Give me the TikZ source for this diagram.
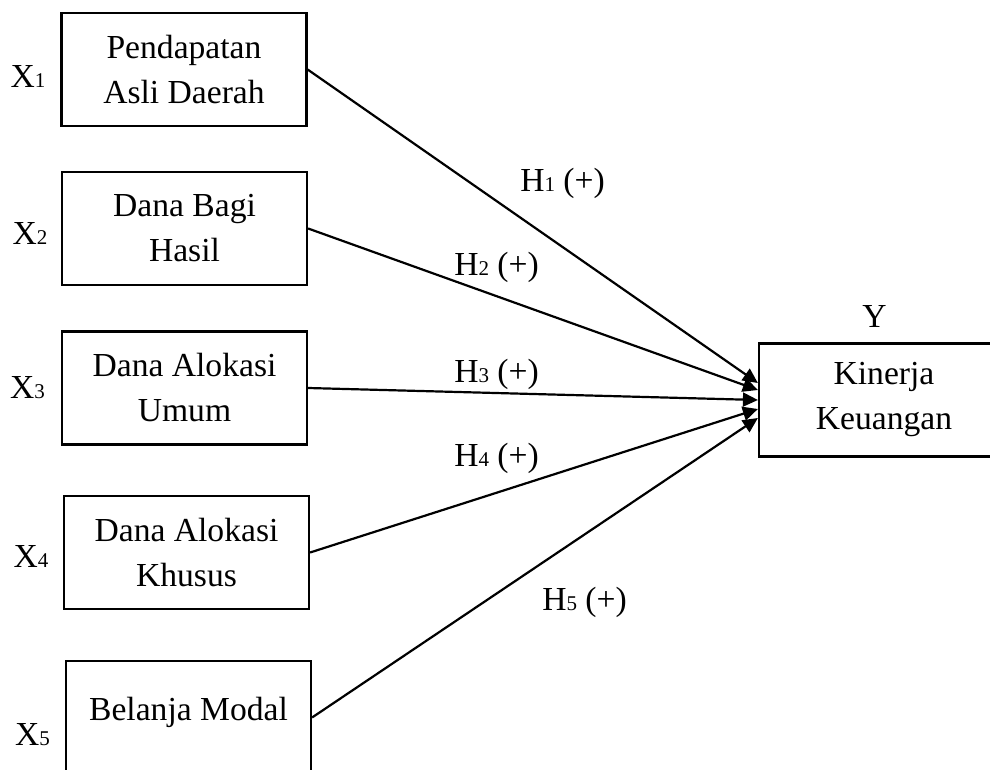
\documentclass[tikz,border=0pt]{standalone}
\usepackage{fontspec}
\setmainfont{Liberation Serif}
\usetikzlibrary{arrows.meta}
\newcommand{\sbs}[1]{{\fontsize{10.5}{12}\selectfont #1}}

\begin{document}
\begin{tikzpicture}[x=0.5pt,y=-0.5pt,
	font=\fontsize{16.8}{22.5}\selectfont,
	box/.style={draw,line width=1.1pt,minimum width=122.5pt,minimum height=56.5pt,inner sep=0pt,align=center},
	lbl/.style={anchor=base},
	link/.style={line width=1.1pt,-{Triangle[length=7.5pt,width=7pt]}}]
	\useasboundingbox (0,0) rectangle (990,770);
	% variabel independen
	\node[box] (pad) at (184,69.5) {Pendapatan\\Asli Daerah};
	\node[box] (dbh) at (184.5,228.5) {Dana Bagi\\Hasil};
	\node[box] (dau) at (184.5,388) {Dana Alokasi\\Umum};
	\node[box] (dak) at (186.5,552.5) {Dana Alokasi\\Khusus};
	\node[box,text depth=9pt] (bm) at (188.5,717.5) {Belanja Modal};
	% variabel dependen
	\node[box,minimum width=125pt] (kk) at (884,400) {Kinerja\\Keuangan};
	\node[lbl] (y) at (874.5,327) {Y};
	\node[lbl] (x1) at (28,88) {X\sbs{1}};
	\node[lbl] (x2) at (30,245) {X\sbs{2}};
	\node[lbl] (x3) at (27.5,398) {X\sbs{3}};
	\node[lbl] (x4) at (31,567) {X\sbs{4}};
	\node[lbl] (x5) at (32.5,745) {X\sbs{5}};
	% hipotesis
	\draw[link] (pad.east) -- ([yshift=8.5pt]kk.west);
	\draw[link] (dbh.east) -- ([yshift=5pt]kk.west);
	\draw[link] (dau.east) -- (kk.west);
	\draw[link] (dak.east) -- ([yshift=-4.5pt]kk.west);
	\draw[link] (bm.east) -- ([yshift=-9pt]kk.west);
	\node[lbl] (h1) at (562.5,192) {H\sbs{1} (+)};
	\node[lbl] (h2) at (496.5,276) {H\sbs{2} (+)};
	\node[lbl] (h3) at (496.5,382) {H\sbs{3} (+)};
	\node[lbl] (h4) at (496.5,466) {H\sbs{4} (+)};
	\node[lbl] (h5) at (584.5,610) {H\sbs{5} (+)};
\end{tikzpicture}
\end{document}
